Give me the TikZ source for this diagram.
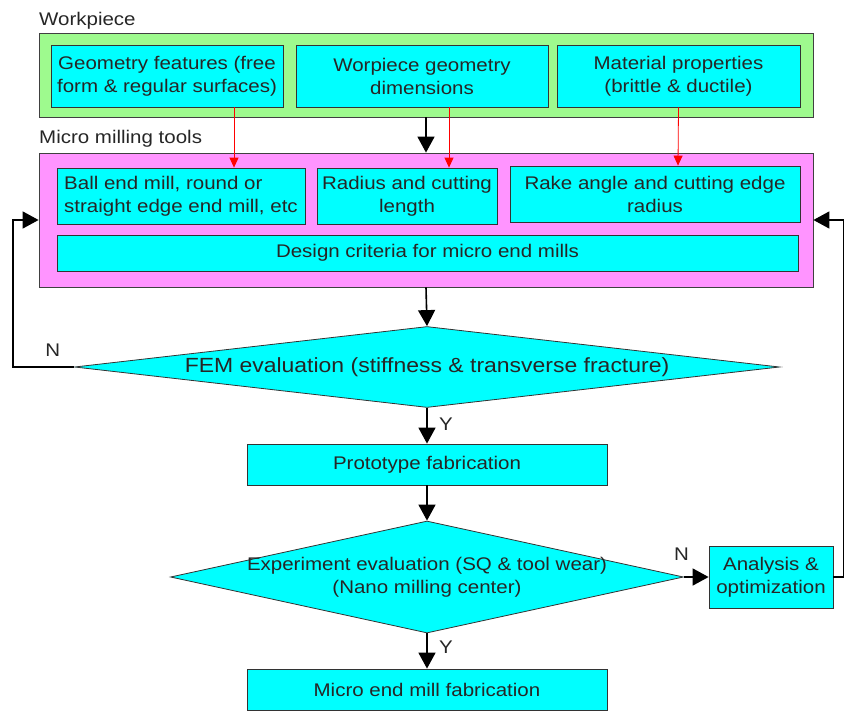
\documentclass[tikz,border=0pt]{standalone}
\usepackage{fontspec}
\setmainfont{Liberation Sans}[FakeStretch=1.12]
\usetikzlibrary{shapes.geometric,arrows.meta}
\definecolor{boxcyan}{RGB}{0,255,255}
\definecolor{wpgreen}{RGB}{158,250,142}
\definecolor{toolpink}{RGB}{255,148,255}

\begin{document}
\begin{tikzpicture}[x=1pt, y=-1pt, >={Triangle[length=16pt,width=17pt]},
  every node/.style={font=\fontsize{18.3}{23}\selectfont, text=black!85},
  cbox/.style={draw=black!80, thick, fill=boxcyan, inner sep=2pt, align=center},
  outerbox/.style={draw=black!75, thick, inner sep=0pt},
  dia/.style={draw=black!80, thick, fill=boxcyan, diamond, inner sep=0pt},
  flow/.style={->, line width=1.6pt},
  redarr/.style={-{Triangle[length=10pt,width=9pt]}, red, thick}]
\useasboundingbox (0,0) rectangle (846,712);
% Draw workpiece group
\node[anchor=west, inner sep=0pt] (wplabel) at (39,21) {Workpiece};
\node[outerbox, fill=wpgreen, minimum width=774, minimum height=84] (wpbox) at (426,75) {};
\node[cbox, minimum width=232, minimum height=62] (geo) at (167,76) {Geometry features (free\\form \& regular surfaces)};
\node[cbox, minimum width=252, minimum height=62] (dims) at (422,76) {Worpiece geometry\\dimensions};
\node[cbox, minimum width=243, minimum height=62] (mat) at (678.5,76) {Material properties\\(brittle \& ductile)};
% Draw tool group
\node[anchor=west, inner sep=0pt] (toollabel) at (39,139) {Micro milling tools};
\node[outerbox, fill=toolpink, minimum width=774, minimum height=134] (toolbox) at (426,220) {};
\node[cbox, align=left, minimum width=248, minimum height=56] (ball) at (181,196) {Ball end mill, round or\\straight edge end mill, etc};
\node[cbox, minimum width=180, minimum height=56] (radius) at (407,196) {Radius and cutting\\length};
\node[cbox, minimum width=290, minimum height=56] (rake) at (655,194) {Rake angle and cutting edge\\radius};
\node[cbox, minimum width=741, minimum height=36] (design) at (427.5,253) {Design criteria for micro end mills};
% Draw flow
\node[dia, minimum width=705, minimum height=81] (fem) at (427,367) {};
\node[inner sep=0pt, font=\fontsize{20.5}{24}\selectfont] (femtext) at (fem) {FEM evaluation (stiffness \& transverse fracture)};
\node[cbox, minimum width=360, minimum height=41] (proto) at (427,464.5) {Prototype fabrication};
\node[dia, minimum width=513, minimum height=112] (exper) at (427,577) {};
\node[inner sep=0pt, align=center] (expertext) at (exper) {Experiment evaluation (SQ \& tool wear)\\(Nano milling center)};
\node[cbox, minimum width=124, minimum height=62] (analysis) at (771,577) {Analysis \&\\optimization};
\node[cbox, minimum width=360, minimum height=41] (final) at (427,689.5) {Micro end mill fabrication};
% Draw red links
\draw[redarr] ([xshift=67pt]geo.south) -- ([xshift=53pt]ball.north);
\draw[redarr] ([xshift=27pt]dims.south) -- ([xshift=42pt]radius.north);
\draw[redarr] (mat.south) -- ([xshift=23pt]rake.north);
% Draw arrows
\draw[flow] (wpbox.south) -- (toolbox.north);
\draw[flow] (toolbox.south) -- (fem.north);
\draw[flow] (fem.south) -- (proto.north) node[pos=0.45, right=8pt] {Y};
\draw[flow] (proto.south) -- (exper.north);
\draw[flow] (exper.south) -- (final.north) node[pos=0.4, right=8pt] {Y};
\draw[flow] (exper.east) -- (analysis.west) node[pos=-0.1, above=12pt] {N};
% Draw feedback loops
\draw[flow] (fem.west) -- ++(-61,0) node[pos=0.35, above=6pt] {N} |- (toolbox.west);
\draw[flow] (analysis.east) -- ++(10,0) |- (toolbox.east);
\end{tikzpicture}
\end{document}
